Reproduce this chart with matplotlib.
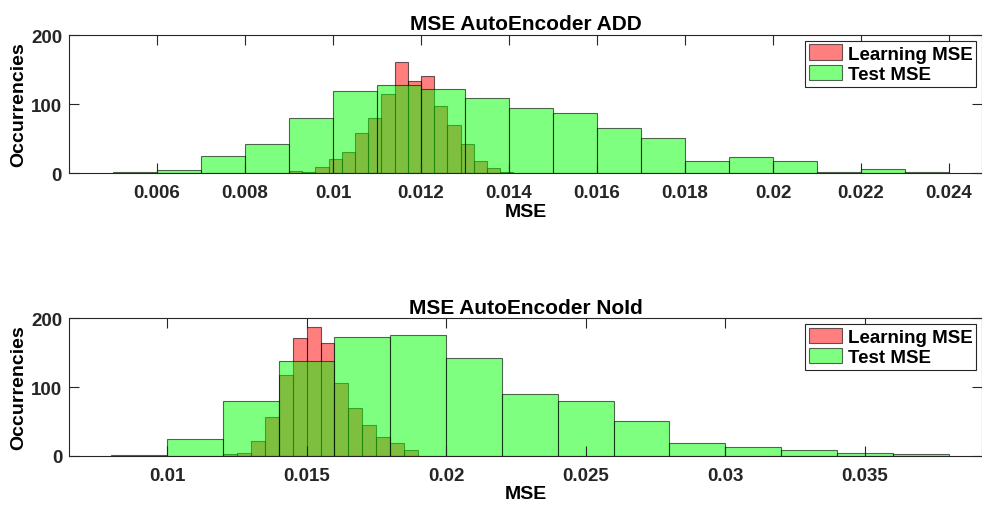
import numpy as np
import matplotlib
matplotlib.use("Agg")
import matplotlib.pyplot as plt

plt.rcParams['font.family'] = ['Liberation Sans', 'DejaVu Sans']
plt.rcParams['font.weight'] = 'bold'

# --- top panel: MSE AutoEncoder ADD ---
add_learn_edges = [0.009, 0.0093, 0.0096, 0.0099, 0.0102, 0.0105, 0.0108, 0.0111, 0.0114,
                   0.0117, 0.012, 0.0123, 0.0126, 0.0129, 0.0132, 0.0135, 0.0138, 0.0141]
add_learn_counts = [3, 2, 8, 20, 30, 58, 80, 114, 161, 133, 141, 97, 69, 42, 18, 7, 2]

add_test_edges = [0.005, 0.006, 0.007, 0.008, 0.009, 0.010, 0.011, 0.012, 0.013, 0.014,
                  0.015, 0.016, 0.017, 0.018, 0.019, 0.020, 0.021, 0.022, 0.023, 0.024]
add_test_counts = [2, 4, 25, 42, 80, 119, 128, 122, 109, 94, 87, 65, 51, 18, 23, 17, 2, 6, 1]

# --- bottom panel: MSE AutoEncoder NoId ---
noid_learn_edges = [0.012, 0.0125, 0.013, 0.0135, 0.014, 0.0145, 0.015, 0.0155,
                    0.016, 0.0165, 0.017, 0.0175, 0.018, 0.0185, 0.019]
noid_learn_counts = [2, 3.5, 22, 56, 117, 171, 187, 164, 106, 70, 44, 27, 18, 9]

noid_test_edges = [0.008, 0.010, 0.012, 0.014, 0.016, 0.018, 0.020, 0.022,
                   0.024, 0.026, 0.028, 0.030, 0.032, 0.034, 0.036, 0.038]
noid_test_counts = [1, 25, 79, 138, 173, 176, 142, 90, 80, 50, 18, 13, 8, 3.5, 2]

panels = [
    ("MSE AutoEncoder ADD", add_learn_edges, add_learn_counts, add_test_edges, add_test_counts,
     (0.004, 0.02475), [0.006, 0.008, 0.01, 0.012, 0.014, 0.016, 0.018, 0.02, 0.022, 0.024],
     [0.0703, 0.6561, 0.9297, 0.2727]),
    ("MSE AutoEncoder NoId", noid_learn_edges, noid_learn_counts, noid_test_edges, noid_test_counts,
     (0.0065, 0.0392), [0.01, 0.015, 0.02, 0.025, 0.03, 0.035],
     [0.0706, 0.0974, 0.9294, 0.2715]),
]

axc = (0.15, 0.15, 0.15)
fig = plt.figure(figsize=(9.82, 5.06), dpi=100)

for title, le, lc, te, tc, xl, xt, pos in panels:
    ax = fig.add_axes(pos)
    ax.hist(le[:-1], bins=le, weights=lc, facecolor=(1, 0, 0, 0.5),
            edgecolor=(0, 0, 0, 0.6), linewidth=0.8, label='Learning MSE')
    ax.hist(te[:-1], bins=te, weights=tc, facecolor=(0, 1, 0, 0.5),
            edgecolor=(0, 0, 0, 0.6), linewidth=0.8, label='Test MSE')
    ax.set_xlim(*xl)
    ax.set_ylim(0, 200)
    ax.set_xticks(xt)
    ax.set_xticklabels([('%g' % v) for v in xt])
    ax.set_yticks([0, 100, 200])
    ax.tick_params(direction='in', length=7, width=0.8, top=True, right=True,
                   labelsize=13.5, colors=axc)
    ax.tick_params(axis='x', pad=8)
    ax.tick_params(axis='y', pad=5)
    for lab in ax.get_xticklabels() + ax.get_yticklabels():
        lab.set_fontweight('bold')
    for s in ax.spines.values():
        s.set_color(axc)
        s.set_linewidth(0.8)
    ax.set_title(title, fontsize=15, fontweight='bold', pad=4)
    ax.set_xlabel('MSE', fontsize=14, fontweight='bold', labelpad=1)
    ax.set_ylabel('Occurrencies', fontsize=14, fontweight='bold', labelpad=3)
    leg = ax.legend(loc='upper right', fontsize=13.5, fancybox=False, framealpha=1,
                    edgecolor=axc, handlelength=1.8, handleheight=0.9,
                    handletextpad=0.3, labelspacing=0.1, borderpad=0.2,
                    borderaxespad=0.3)
    leg.get_frame().set_linewidth(0.8)
    for t in leg.get_texts():
        t.set_fontweight('bold')

fig.savefig('out.png', dpi=100, facecolor='white')
